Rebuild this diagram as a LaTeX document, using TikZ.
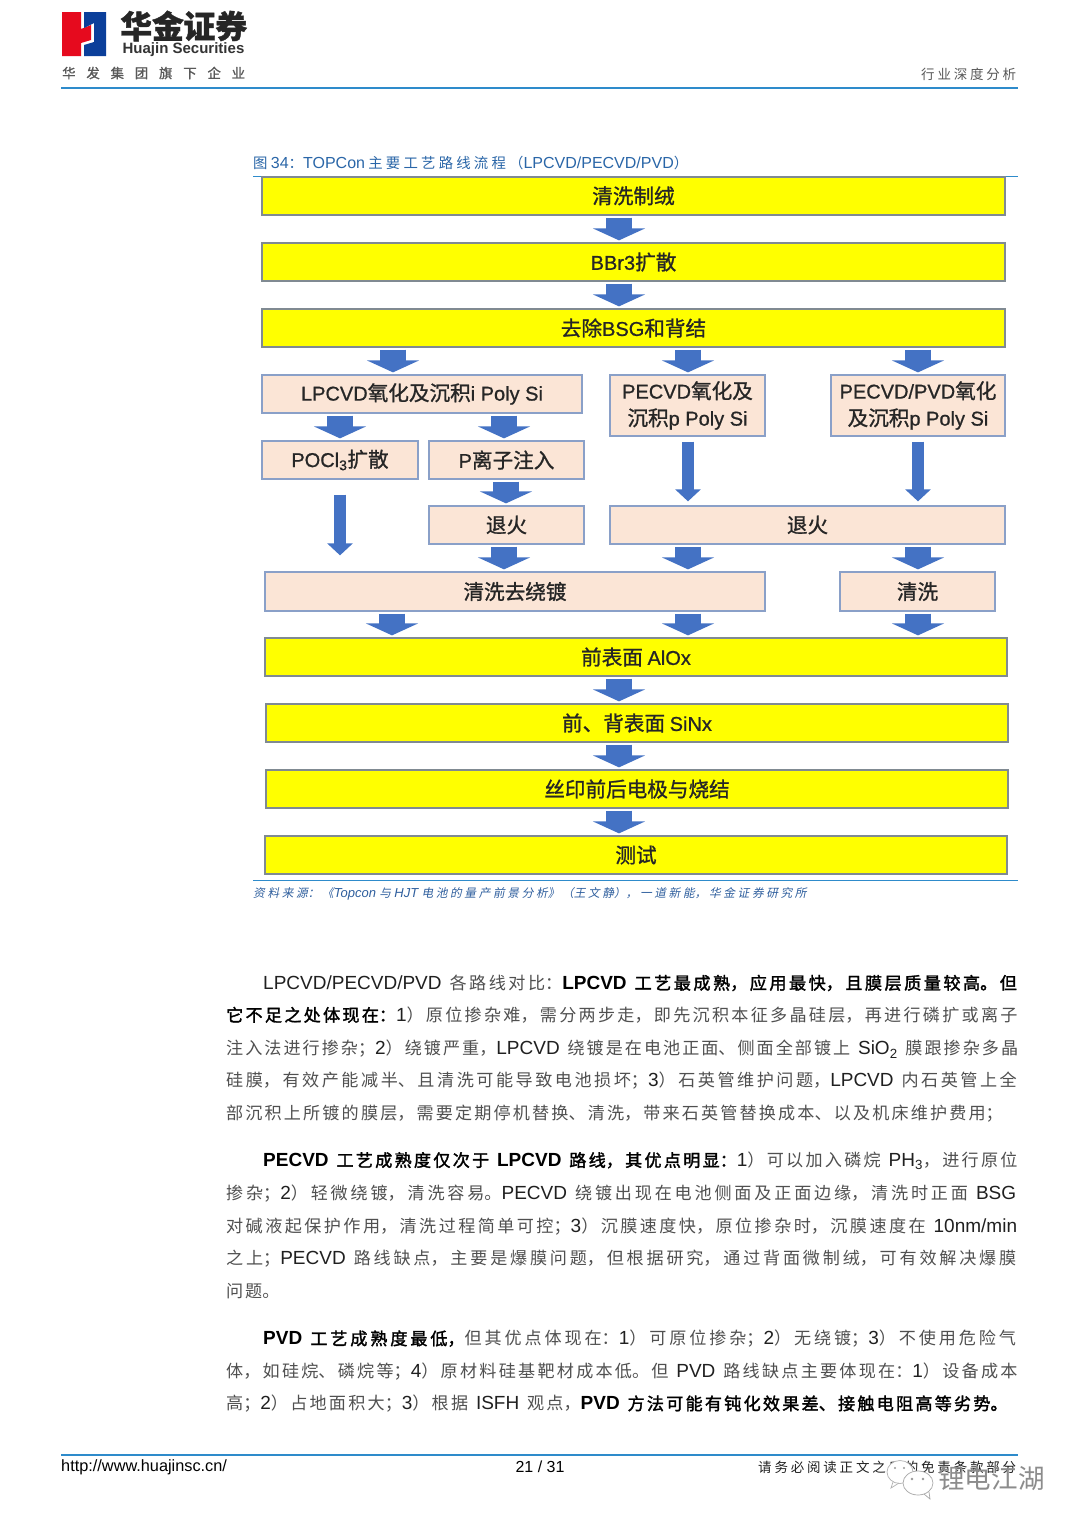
\documentclass[tikz,border=0pt]{standalone}
\usepackage{fontspec}
\usetikzlibrary{arrows.meta,calc}
\setmainfont{Liberation Sans}
\newfontfamily\latbox{Liberation Sans}[FakeBold=0.8]
\newfontfamily\cjkfam{Noto Sans CJK SC}[Scale=0.9,BoldFont={Noto Sans CJK SC},BoldFeatures={FakeBold=1.8},ItalicFont={Noto Sans CJK SC},ItalicFeatures={FakeSlant=0.2},BoldItalicFont={Noto Sans CJK SC},BoldItalicFeatures={FakeSlant=0.2}]
\newfontfamily\cjkbox{Noto Sans CJK SC}[Scale=1.03,FakeBold=1.1]
\let\cjksw\cjkfam
\let\latsw\rmfamily
\XeTeXlinebreaklocale "zh"
\XeTeXlinebreakskip=0pt plus 8pt minus 0.4pt
\newXeTeXintercharclass\zhclass
\newcount\zhi
\zhi="3000 \loop\ifnum\zhi<"3040 \XeTeXcharclass\zhi=\zhclass \advance\zhi 1 \repeat
\zhi="4E00 \loop\ifnum\zhi<"A000 \XeTeXcharclass\zhi=\zhclass \advance\zhi 1 \repeat
\zhi="FF00 \loop\ifnum\zhi<"FF60 \XeTeXcharclass\zhi=\zhclass \advance\zhi 1 \repeat
\XeTeXinterchartokenstate=1
\XeTeXinterchartoks 0 \zhclass={\cjksw}
\XeTeXinterchartoks 4095 \zhclass={\cjksw}
\XeTeXinterchartoks \zhclass 0={\latsw}
\XeTeXinterchartoks 4095 0={\latsw}
\definecolor{bodyzh}{HTML}{505050}
\definecolor{bodyla}{HTML}{202020}
\definecolor{ttlc}{HTML}{2A66A8}
\definecolor{srcc}{HTML}{2F5F9E}
\definecolor{rulec}{HTML}{2E8BCB}
\definecolor{flowc}{HTML}{4472C4}
\definecolor{peach}{HTML}{FBE5D6}
\definecolor{yfill}{RGB}{255,255,0}
\definecolor{ybord}{HTML}{808A92}
\definecolor{pbord}{HTML}{8AA0C8}
\definecolor{logored}{HTML}{E60A1E}
\definecolor{logoblue}{HTML}{0B3F9A}
\newcommand{\boxfont}{\fontsize{20}{27}\selectfont\let\cjksw\cjkbox\let\latsw\latbox\latbox}
\tikzset{
 x=1pt,y=-1pt,
 ybox/.style={draw=ybord,line width=1.3pt,fill=yfill,inner sep=0pt,align=center,text=black!85,font=\boxfont},
 pbox/.style={draw=pbord,line width=1.3pt,fill=peach,inner sep=0pt,align=center,text=black!85,font=\boxfont},
 flow/.style={draw=flowc,line width=26pt,-{Triangle[length=12pt,width=52pt]},shorten <=2pt,shorten >=2pt},
 thinflow/.style={draw=flowc,line width=12pt,-{Triangle[length=12pt,width=25pt]}},
 txt/.style={anchor=west,inner sep=0pt,text=bodyla},
 brule/.style={draw=rulec},
}
\newcommand{\bx}[7]{\node (#1) [#2,minimum width={(#5-#3)*1pt},minimum height={(#6-#4)*1pt}] at ({(#3+#5)/2},{(#4+#6)/2}) {#7};}
\newcommand{\lin}[6][txt]{\node (#2) [#1,text width=#5pt] at (#3,#4) {\parfillskip=0pt \tolerance=9999 \hbadness=10000 \hfuzz=3pt #6\unskip\par};}
\begin{document}
\begin{tikzpicture}
\useasboundingbox (0,0) rectangle (1080,1527);
\fill[white] (0,0) rectangle (1080,1527);
% logo
\fill[logored] (62,12) -- (81,12) -- (81,29) -- (91,25) -- (91,40) -- (81,43) -- (81,56) -- (62,56) -- cycle;
\fill[logoblue] (84,12) -- (106,12) -- (106,56) -- (84,56) -- (84,45) -- (94,42) -- (94,23) -- (84,28) -- cycle;
\lin[txt,text=black!85]{lg1}{120}{26}{127}{\fontsize{31}{32}\selectfont\let\cjksw\cjkbox\bfseries 华金证券}
\node (lg2) [anchor=center,inner sep=0pt,text=black!80] at (183.5,50) {\fontsize{15}{16}\selectfont\bfseries\addfontfeature{LetterSpace=4}Huajin Securities};
\lin[txt,text=black!65]{lg3}{62}{73}{210}{\fontsize{13}{14}\selectfont\let\cjksw\cjkbox 华发集团旗下企业}
\draw[brule,line width=2pt] (61,88) -- (1018,88);
\lin[txt,text=black!65]{hd}{921}{74}{102}{\fontsize{15}{16}\selectfont 行业深度分析}
% caption
\lin[txt,text=ttlc]{ttl}{253}{163}{443}{\fontsize{16}{18}\selectfont 图 34：TOPCon 主要工艺路线流程（\mbox{LPCVD/PECVD/PVD}）}
\draw[brule,line width=0.8pt] (253,176) -- (1018,176);
% boxes
\bx{b1}{ybox}{262}{177}{1005}{215}{清洗制绒}
\bx{b2}{ybox}{262}{243}{1005}{281}{BBr3扩散}
\bx{b3}{ybox}{262}{309}{1005}{347}{去除BSG和背结}
\bx{b4}{pbox}{262}{375}{582}{413}{LPCVD氧化及沉积i Poly Si}
\bx{b5}{pbox}{610}{375}{765}{436}{PECVD氧化及\\沉积p Poly Si}
\bx{b6}{pbox}{831}{375}{1005}{436}{PECVD/PVD氧化\\及沉积p Poly Si}
\bx{b7}{pbox}{262}{441}{418}{479}{POCl\textsubscript{3}扩散}
\bx{b8}{pbox}{429}{441}{584}{479}{P离子注入}
\bx{b9}{pbox}{429}{506}{584}{544}{退火}
\bx{b10}{pbox}{610}{506}{1005}{544}{退火}
\bx{b11}{pbox}{265}{572}{765}{611}{清洗去绕镀}
\bx{b12}{pbox}{840}{572}{995}{611}{清洗}
\bx{b13}{ybox}{265}{638}{1007}{676}{前表面 AlOx}
\bx{b14}{ybox}{266}{704}{1008}{742}{前、背表面 SiNx}
\bx{b15}{ybox}{266}{770}{1008}{808}{丝印前后电极与烧结}
\bx{b16}{ybox}{265}{836}{1007}{874}{测试}
% arrow columns
\coordinate (c619) at (619,0);
\coordinate (c393) at (393,0);
\coordinate (c392) at (392,0);
\coordinate (c688) at (688,0);
\coordinate (c918) at (918,0);
\coordinate (c340) at (340,0);
\coordinate (c504) at (504,0);
\coordinate (c506) at (506,0);
\draw[flow] (b1.south -| c619) -- (b2.north -| c619);
\draw[flow] (b2.south -| c619) -- (b3.north -| c619);
\draw[flow] (b3.south -| c393) -- (b4.north -| c393);
\draw[flow] (b3.south -| c688) -- (b5.north -| c688);
\draw[flow] (b3.south -| c918) -- (b6.north -| c918);
\draw[flow] (b4.south -| c340) -- (b7.north -| c340);
\draw[flow] (b4.south -| c504) -- (b8.north -| c504);
\draw[flow] (b8.south -| c506) -- (b9.north -| c506);
\draw[flow] (b9.south -| c504) -- (b11.north -| c504);
\draw[flow] (b10.south -| c688) -- (b11.north -| c688);
\draw[flow] (b10.south -| c918) -- (b12.north -| c918);
\draw[flow] (b11.south -| c392) -- (b13.north -| c392);
\draw[flow] (b11.south -| c688) -- (b13.north -| c688);
\draw[flow] (b12.south -| c918) -- (b13.north -| c918);
\draw[flow] (b13.south -| c619) -- (b14.north -| c619);
\draw[flow] (b14.south -| c619) -- (b15.north -| c619);
\draw[flow] (b15.south -| c619) -- (b16.north -| c619);
\draw[thinflow,shorten <=15pt,shorten >=16pt] (b7.south -| c340) -- (b11.north -| c340);
\draw[thinflow,shorten <=5pt,shorten >=4pt] (b5.south -| c688) -- (b10.north -| c688);
\draw[thinflow,shorten <=5pt,shorten >=4pt] (b6.south -| c918) -- (b10.north -| c918);
% source
\draw[brule,line width=0.8pt] (253,880) -- (1018,880);
\lin[txt,text=srcc]{src}{253}{894}{560}{\fontsize{13}{15}\selectfont\itshape 资料来源：《Topcon 与 HJT 电池的量产前景分析》（王文静），一道新能，华金证券研究所}
% body
\newcommand{\bodyzhsw}{\cjkfam\color{\zhcol}}
\newcommand{\bodylasw}{\rmfamily\color{\lacol}}
\newcommand{\zhcol}{bodyzh}
\newcommand{\lacol}{bodyla}
\newcommand{\bs}{\fontsize{19}{22}\selectfont\spaceskip=7pt plus 3pt\relax\let\cjksw\bodyzhsw\let\latsw\bodylasw}
\newcommand{\bd}[1]{{\bfseries\def\zhcol{black}\def\lacol{black}#1}}
\lin{p1}{263}{983}{760}{\bs \mbox{LPCVD/PECVD/PVD} 各路线对比：\bd{\color{black}LPCVD 工艺最成熟，应用最快，且膜层质量较高。但}}
\lin{p2}{226}{1015}{797}{\bs \bd{它不足之处体现在：}1）原位掺杂难，需分两步走，即先沉积本征多晶硅层，再进行磷扩或离子}
\lin{p3}{226}{1049}{797}{\bs 注入法进行掺杂；2）绕镀严重，LPCVD 绕镀是在电池正面、侧面全部镀上 SiO\textsubscript{2} 膜跟掺杂多晶}
\lin{p4}{226}{1081}{797}{\bs 硅膜，有效产能减半、且清洗可能导致电池损坏；3）石英管维护问题，LPCVD 内石英管上全}
\lin{p5}{226}{1114}{782}{\bs 部沉积上所镀的膜层，需要定期停机替换、清洗，带来石英管替换成本、以及机床维护费用；}
\lin{q1}{263}{1161}{760}{\bs \bd{PECVD 工艺成熟度仅次于 LPCVD 路线，其优点明显：}1）可以加入磷烷 PH\textsubscript{3}，进行原位}
\lin{q2}{226}{1194}{797}{\bs 掺杂；2）轻微绕镀，清洗容易。PECVD 绕镀出现在电池侧面及正面边缘，清洗时正面 BSG}
\lin{q3}{226}{1227}{797}{\bs 对碱液起保护作用，清洗过程简单可控；3）沉膜速度快，原位掺杂时，沉膜速度在 \mbox{10nm/min}}
\lin{q4}{226}{1259}{797}{\bs 之上；PECVD 路线缺点，主要是爆膜问题，但根据研究，通过背面微制绒，可有效解决爆膜}
\lin{q5}{226}{1291}{58}{\bs 问题。}
\lin{r1}{263}{1339}{760}{\bs \bd{PVD 工艺成熟度最低，}\cjksw 但其优点体现在：1）可原位掺杂；2）无绕镀；3）不使用危险气}
\lin{r2}{226}{1372}{797}{\bs 体，如硅烷、磷烷等；4）原材料硅基靶材成本低。但 PVD 路线缺点主要体现在：1）设备成本}
\lin{r3}{226}{1404}{787}{\bs 高；2）占地面积大；3）根据 ISFH 观点，\bd{PVD 方法可能有钝化效果差、接触电阻高等劣势。}}
% footer
\draw[brule,line width=1.5pt] (61,1455) -- (1018,1455);
\node (url) [txt,text=black] at (61,1467) {\fontsize{16.3}{18}\selectfont http://www.huajinsc.cn/};
\node (pg) [anchor=center,inner sep=0pt,text=black] at (540,1467) {\fontsize{16}{18}\selectfont 21 / 31};
\lin{dis}{758}{1467}{265}{\fontsize{15}{16}\selectfont 请务必阅读正文之后的免责条款部分}
% watermark
\draw[black!30,fill=white,line width=0.7pt] (900,1472) ellipse [x radius=13,y radius=11.5];
\draw[black!30,line width=0.7pt] (893,1482) -- (891,1488) -- (899,1483);
\draw[black!35,fill=white,line width=0.7pt] (918,1483) ellipse [x radius=15,y radius=12];
\draw[black!35,line width=0.7pt] (924,1494) -- (930,1499) -- (929,1492);
\fill[black!40] (912,1479) circle (1.4) (923,1479) circle (1.4) (895,1468) circle (1.2) (904,1468) circle (1.2);
\node (wm) [anchor=center,inner sep=0pt,text=black!45] at (991.5,1478) {\fontsize{29.5}{30}\selectfont 锂电江湖};
\end{tikzpicture}
\end{document}
